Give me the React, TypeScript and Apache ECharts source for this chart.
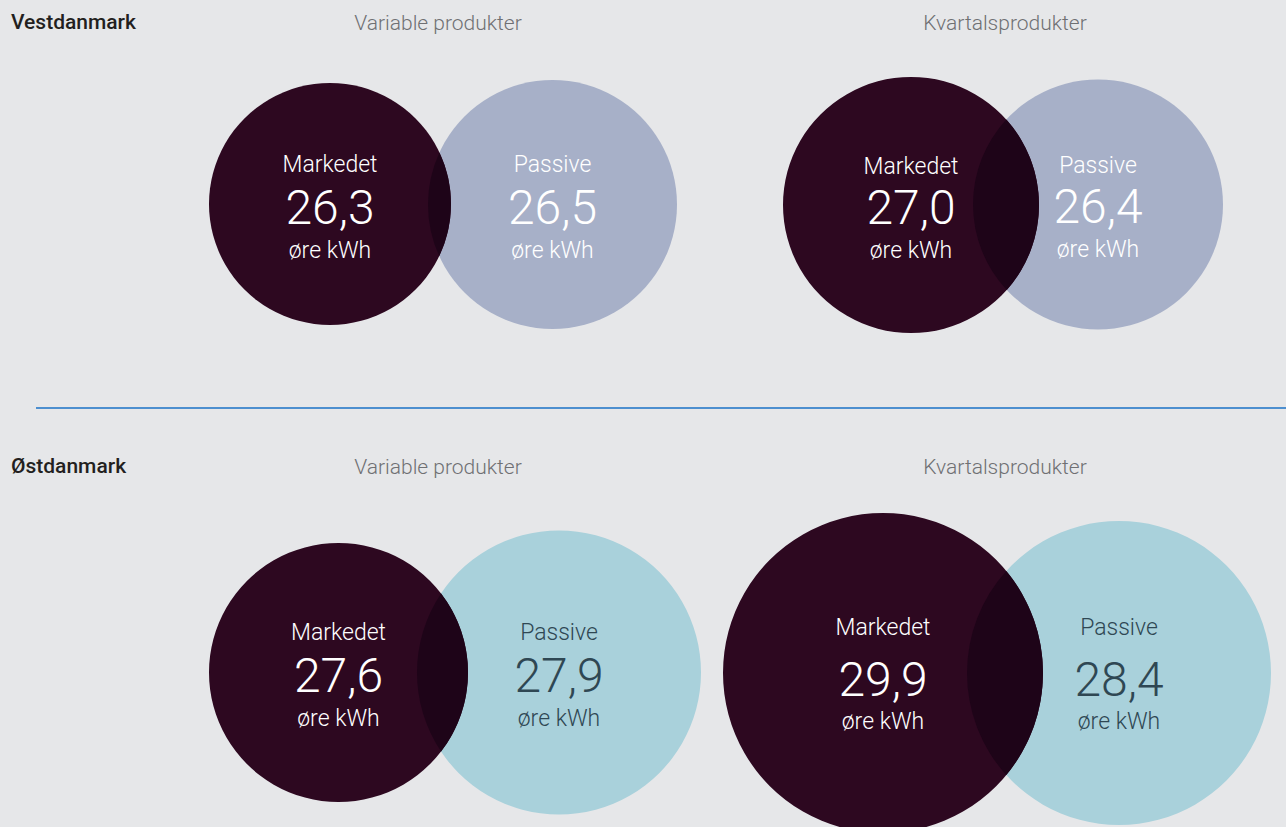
import React, { useEffect, useRef } from "react";
import * as echarts from "echarts";

// ---- data ----
const regions = ["Vestdanmark", "Østdanmark"];
const products = ["Variable produkter", "Kvartalsprodukter"];
const marketLabel = "Markedet";
const passiveLabel = "Passive";
const unitLabel = "øre kWh";
// order: Vest variable, Vest kvartal, Øst variable, Øst kvartal
const marketValues = [26.3, 27.0, 27.6, 29.9];
const passiveValues = [26.5, 26.4, 27.9, 28.4];

// ---- layout (pixels) ----
const marketCircles = [
  [330, 204, 121],
  [911, 205, 128],
  [338.5, 672.5, 129.5],
  [883, 673, 160],
];
const passiveCircles = [
  [552.5, 204.5, 124.5],
  [1098, 204.5, 125],
  [559, 672.5, 142],
  [1119, 673, 152],
];
// [label dy, number dy, unit dy]
const textOffsets = [
  [-40, 3, 46],
  [-39, 2, 45],
  [-40, 3, 45.5],
  [-46, 6, 48],
];
const passiveFill = ["#a7b0c8", "#a7b0c8", "#a9d1db", "#a9d1db"];
const passiveText = ["#ffffff", "#ffffff", "#2f4753", "#2f4753"];

const BG = "#e6e7e9";
const DARK = "#2d0820";
const LENS = "#1e0418";
const FONT = "Roboto, 'Open Sans', sans-serif";

const fmt = (v: number) => v.toFixed(1).replace(".", ",");

function lensPath(c1: number[], c2: number[]) {
  const [x1, y1, r1] = c1;
  const [x2, y2, r2] = c2;
  const dx = x2 - x1;
  const dy = y2 - y1;
  const d = Math.hypot(dx, dy);
  const a = (r1 * r1 - r2 * r2 + d * d) / (2 * d);
  const h = Math.sqrt(Math.max(0, r1 * r1 - a * a));
  const ux = dx / d;
  const uy = dy / d;
  const px = x1 + a * ux;
  const py = y1 + a * uy;
  const p1x = px + h * uy;
  const p1y = py - h * ux;
  const p2x = px - h * uy;
  const p2y = py + h * ux;
  const l1 = a < 0 ? 1 : 0;
  const l2 = d - a < 0 ? 1 : 0;
  return `M${p1x} ${p1y} A${r1} ${r1} 0 ${l1} 1 ${p2x} ${p2y} A${r2} ${r2} 0 ${l2} 1 ${p1x} ${p1y} Z`;
}

function textEl(text: string, x: number, y: number, size: number, fill: string) {
  return {
    type: "text",
    style: {
      text,
      x,
      y,
      fill,
      fontSize: size,
      fontFamily: FONT,
      fontWeight: 300,
      align: "center",
      verticalAlign: "middle",
    },
  };
}

export default function App() {
  const ref = useRef<HTMLDivElement>(null);

  useEffect(() => {
    document.body.style.margin = "0";
    document.body.style.background = BG;
    const chart = echarts.init(ref.current!, null, { renderer: "svg" });

    const data = marketValues.map((m, i) => [i, m, passiveValues[i]]);

    const renderItem = (params: any, api: any) => {
      const i = api.value(0);
      const m = api.value(1);
      const p = api.value(2);
      const mc = marketCircles[i];
      const pc = passiveCircles[i];
      const off = textOffsets[i];
      return {
        type: "group",
        children: [
          { type: "circle", shape: { cx: pc[0], cy: pc[1], r: pc[2] }, style: { fill: passiveFill[i] } },
          { type: "circle", shape: { cx: mc[0], cy: mc[1], r: mc[2] }, style: { fill: DARK } },
          { type: "path", shape: { pathData: lensPath(mc, pc) }, style: { fill: LENS } },
          textEl(marketLabel, mc[0], mc[1] + off[0], 23, "#ffffff"),
          textEl(fmt(m), mc[0], mc[1] + off[1], 48, "#ffffff"),
          textEl(unitLabel, mc[0], mc[1] + off[2], 23, "#ffffff"),
          textEl(passiveLabel, pc[0], pc[1] + off[0], 23, passiveText[i]),
          textEl(fmt(p), pc[0], pc[1] + off[1], 48, passiveText[i]),
          textEl(unitLabel, pc[0], pc[1] + off[2], 23, passiveText[i]),
        ],
      };
    };

    const rowY = [22, 466];
    const headerX = [438, 1005];
    const graphics: any[] = [];
    regions.forEach((r, ri) => {
      graphics.push({
        type: "text",
        x: 11,
        y: rowY[ri],
        style: {
          text: r,
          fill: "#231f20",
          fontSize: 21,
          fontFamily: FONT,
          fontWeight: 500,
          align: "left",
          verticalAlign: "middle",
        },
      });
      products.forEach((p, pi) => {
        graphics.push({
          type: "text",
          x: headerX[pi],
          y: rowY[ri] + 1,
          style: {
            text: p,
            fill: "#6f7073",
            fontSize: 21,
            fontFamily: FONT,
            fontWeight: 300,
            align: "center",
            verticalAlign: "middle",
          },
        });
      });
    });
    graphics.push({
      type: "line",
      shape: { x1: 36, y1: 408, x2: 1286, y2: 408 },
      style: { stroke: "#1a72c6", lineWidth: 1.5 },
    });

    chart.setOption({
      animation: false,
      backgroundColor: BG,
      graphic: graphics,
      series: [
        {
          type: "custom",
          coordinateSystem: "none",
          silent: true,
          renderItem,
          data,
        },
      ],
    });
    return () => chart.dispose();
  }, []);

  return <div ref={ref} style={{ width: 1286, height: 827 }} />;
}
